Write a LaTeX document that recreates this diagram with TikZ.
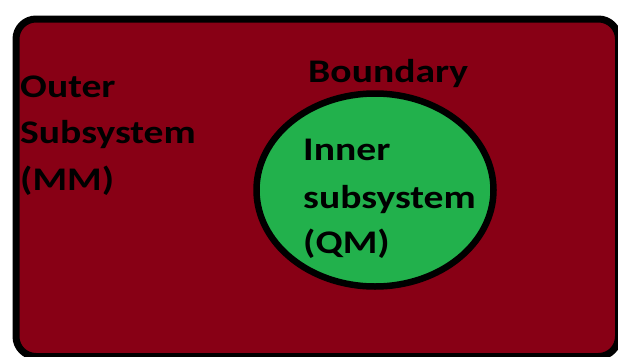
\documentclass[tikz,border=0pt]{standalone}
\usepackage{fontspec}
\setmainfont{Carlito}
\usetikzlibrary{shapes.geometric}
\definecolor{paintred}{RGB}{136,0,21}
\definecolor{paintgreen}{RGB}{34,177,76}
\begin{document}
\begin{tikzpicture}[x=1pt,y=-1pt,
  lbl/.style={anchor=base west,inner sep=0pt,text=black,
    font=\fontsize{33}{40}\selectfont\bfseries,xscale=1.2}]
\useasboundingbox (0,0) rectangle (618,356);
\fill[white] (0,0) rectangle (618,356);
\node[draw=black,fill=paintred,line width=7pt,rounded corners=20pt,
  minimum width=602.5pt,minimum height=337.5pt,inner sep=0pt,anchor=north west]
  (outer) at (12.5,15.5) {};
\node[ellipse,draw=black,fill=paintgreen,line width=6.5pt,
  minimum width=237pt,minimum height=193pt,inner sep=0pt]
  (inner) at (375,190) {};
\node[lbl] (o1) at (20,97) {Outer};
\node[lbl] (o2) at (20,143) {Subsystem};
\node[lbl] (o3) at (20,190) {(MM)};
\node[lbl] (bd) at (308,82) {Boundary};
\node[lbl] (i1) at (303,160) {Inner};
\node[lbl] (i2) at (303,208) {subsystem};
\node[lbl] (i3) at (303,253) {(QM)};
\end{tikzpicture}
\end{document}
